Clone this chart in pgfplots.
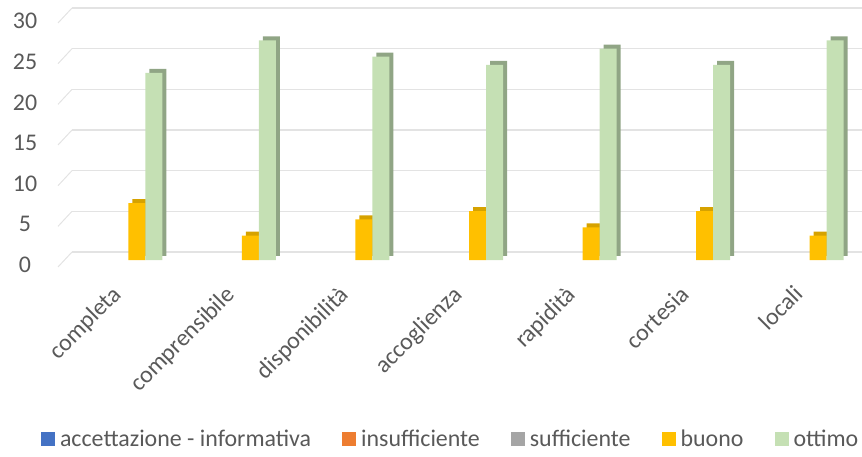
\documentclass[border=0pt]{standalone}
\usepackage{pgfplots}
\pgfplotsset{compat=1.18}
\usepackage{fontspec}
\setmainfont{Carlito}

\definecolor{txt}{HTML}{595959}
\definecolor{cblu}{HTML}{4472C4}
\definecolor{cora}{HTML}{ED7D31}
\definecolor{cgri}{HTML}{A5A5A5}
\definecolor{cgia}{HTML}{FFC000}
\definecolor{cgiaD}{HTML}{D6A200}
\definecolor{cver}{HTML}{C5E0B4}
\definecolor{cverD}{HTML}{90A585}

\pgfplotsset{
  sq legend/.style={legend image code/.code={\fill[#1] (0bp,-7bp) rectangle (14bp,7bp);}},
}

\begin{document}
\begin{tikzpicture}
\path[use as bounding box] (0,0) rectangle (862bp,457bp);
\begin{axis}[
    at={(63bp,197bp)}, anchor=south west,
    scale only axis,
    width=795bp, height=244bp,
    xmin=-0.5, xmax=6.5,
    ymin=0, ymax=30,
    clip=false,
    ybar, bar width=17bp,
    axis line style={draw=none},
    major tick length=0pt,
    xtick={0,...,6},
    xticklabels={completa,comprensibile,disponibilità,accoglienza,rapidità,cortesia,locali},
    ytick={0,5,...,30},
    ymajorgrids,
    major grid style={draw=gray!22, line width=1.2bp, xshift=9bp, yshift=8bp},
    ticklabel style={font=\fontsize{24}{24}\selectfont, text=txt},
    /pgf/number format/assume math mode=true,
    yticklabel style={anchor=center, xshift=-38bp, yshift=-5bp},
    xticklabel style={anchor=north east, inner sep=0pt, xshift=-9bp, yshift=-24bp, rotate=45},
    legend columns=-1,
    legend style={at={(0.487,-0.732)}, anchor=center, draw=none, fill=none,
        font=\fontsize{24}{24}\selectfont, text=txt,
        nodes={inner sep=1bp},
        /tikz/every odd column/.append style={column sep=4bp},
        /tikz/every even column/.append style={column sep=30bp}},
]
\pgfplotsinvokeforeach{0,5,10,15,20,25,30}{
  \draw[gray!22, line width=1bp] ([xshift=-5bp,yshift=-7bp]axis cs:-0.5,#1) -- ([xshift=9bp,yshift=8bp]axis cs:-0.5,#1);
}

% serie a zero (nessuna barra visibile)
\addplot[fill=none, draw=none, bar shift=-34bp, sq legend=cblu] coordinates {(0,0) (1,0) (2,0) (3,0) (4,0) (5,0) (6,0)};
\addlegendentry{accettazione - informativa}
\addplot[fill=none, draw=none, bar shift=-17bp, sq legend=cora] coordinates {(0,0) (1,0) (2,0) (3,0) (4,0) (5,0) (6,0)};
\addlegendentry{insufficiente}
\addplot[fill=none, draw=none, bar shift=0bp, sq legend=cgri] coordinates {(0,0) (1,0) (2,0) (3,0) (4,0) (5,0) (6,0)};
\addlegendentry{sufficiente}

% buono
\addplot[fill=cgiaD, draw=none, bar shift=17bp, xshift=4bp, yshift=4bp, forget plot] coordinates {(0,7) (1,3) (2,5) (3,6) (4,4) (5,6) (6,3)};
\addplot[fill=cgia, draw=none, bar shift=17bp, sq legend=cgia] coordinates {(0,7) (1,3) (2,5) (3,6) (4,4) (5,6) (6,3)};
\addlegendentry{buono}

% ottimo
\addplot[fill=cverD, draw=none, bar shift=34bp, xshift=4bp, yshift=4bp, forget plot] coordinates {(0,23) (1,27) (2,25) (3,24) (4,26) (5,24) (6,27)};
\addplot[fill=cver, draw=none, bar shift=34bp, sq legend=cver] coordinates {(0,23) (1,27) (2,25) (3,24) (4,26) (5,24) (6,27)};
\addlegendentry{ottimo}
\end{axis}
\end{tikzpicture}
\end{document}
